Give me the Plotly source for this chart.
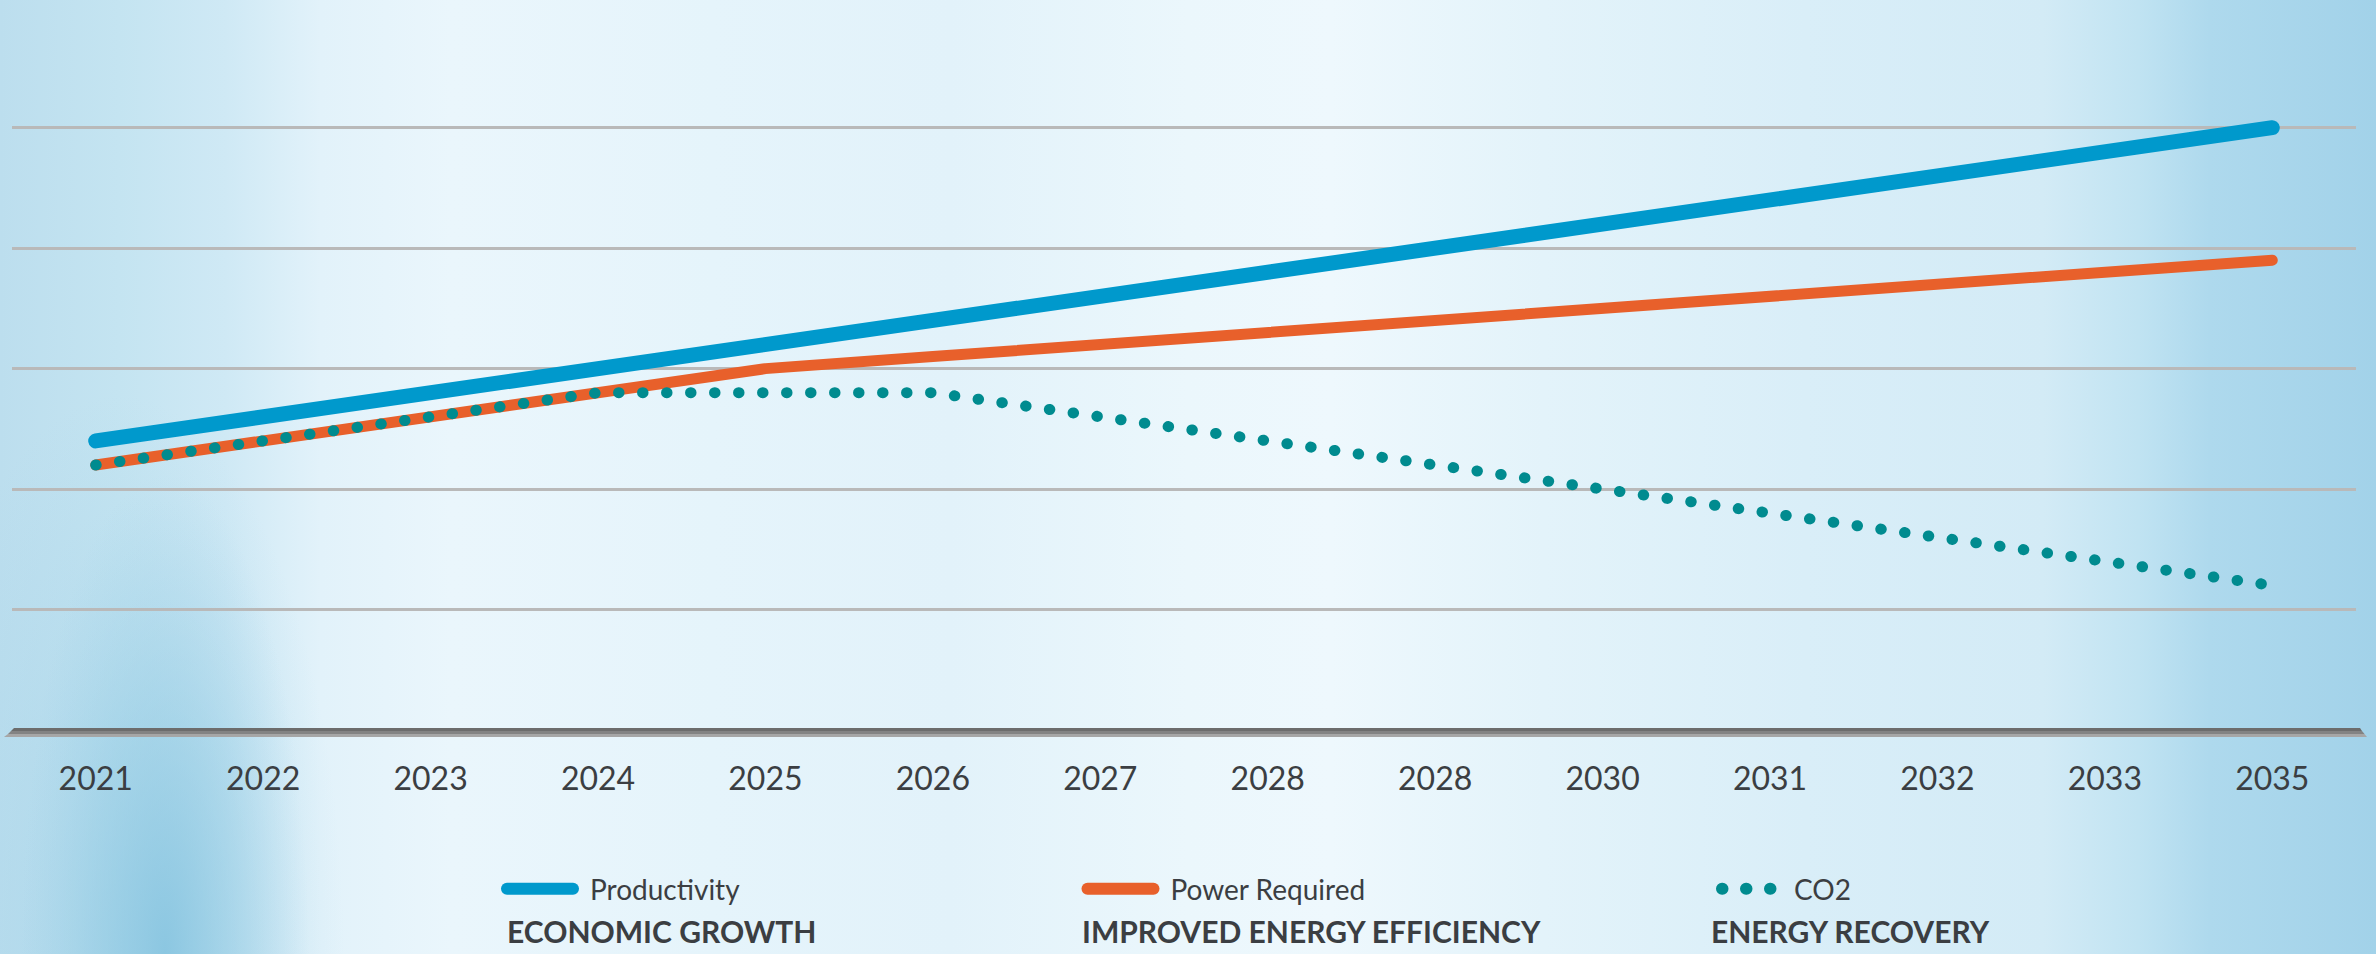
import base64
import plotly.graph_objects as go

# ---------------- data ----------------
years = ["2021", "2022", "2023", "2024", "2025", "2026", "2027",
         "2028", "2028", "2030", "2031", "2032", "2033", "2035"]
productivity = [2.4, 2.6, 2.8, 3.0, 3.2, 3.4, 3.6, 3.8, 4.0, 4.2, 4.4, 4.6, 4.8, 5.0]
power_required = [2.2, 2.4, 2.6, 2.8, 3.0, 3.1, 3.2, 3.3, 3.4, 3.5, 3.6, 3.7, 3.8, 3.9]
co2 = [2.2, 2.4, 2.6, 2.8, 2.8, 2.8, 2.6, 2.4, 2.2, 2.0, 1.8, 1.6, 1.4, 1.2]
series_names = ["Productivity", "Power Required", "CO2"]
group_labels = ["ECONOMIC GROWTH", "IMPROVED ENERGY EFFICIENCY", "ENERGY RECOVERY"]

# ---------------- style ----------------
W, H = 2376, 954
ML, MR, MT, MB = 12, 20, 7, 224
PW, PH = W - ML - MR, H - MT - MB
TEXT = "#3b3e42"
C_PROD = "#0099cc"
C_POW = "#e8602b"
C_CO2 = "#008b8f"
FONT = "Lato"

def px_x(p):
    return (p - ML) / PW

def px_y(p):
    return (H - MB - p) / PH

# background gradient (decorative)
stops = [
    (0.000, "#bcdeee"), (0.050, "#c4e4f1"), (0.095, "#cfe9f5"), (0.135, "#e2f2fa"),
    (0.190, "#eaf6fc"), (0.300, "#e5f4fb"), (0.400, "#e2f2fa"), (0.500, "#ebf7fc"),
    (0.560, "#eef8fd"), (0.650, "#e3f3fa"), (0.760, "#d9eef8"), (0.860, "#d3ebf6"),
    (0.900, "#c0e3f2"), (0.930, "#aed9ed"), (1.000, "#a2d2e9"),
]
stop_svg = "".join(f"<stop offset='{o}' stop-color='{c}'/>" for o, c in stops)
svg = (
    f"<svg xmlns='http://www.w3.org/2000/svg' width='{W}' height='{H}' viewBox='0 0 {W} {H}' "
    "preserveAspectRatio='none'><defs>"
    f"<linearGradient id='h' x1='0' y1='0' x2='1' y2='0'>{stop_svg}</linearGradient>"
    "<radialGradient id='b' gradientUnits='userSpaceOnUse' cx='165' cy='954' r='480' "
    "gradientTransform='translate(165 954) scale(0.3 1) translate(-165 -954)'>"
    "<stop offset='0' stop-color='#84c3df' stop-opacity='0.85'/>"
    "<stop offset='0.55' stop-color='#8fc9e2' stop-opacity='0.4'/>"
    "<stop offset='1' stop-color='#9ccfe6' stop-opacity='0'/></radialGradient>"
    "<radialGradient id='c' gradientUnits='userSpaceOnUse' cx='120' cy='954' r='560' "
    "gradientTransform='translate(120 954) scale(0.4 1) translate(-120 -954)'>"
    "<stop offset='0' stop-color='#a6d4e9' stop-opacity='0.7'/>"
    "<stop offset='1' stop-color='#a6d4e9' stop-opacity='0'/></radialGradient>"
    "</defs>"
    f"<rect width='{W}' height='{H}' fill='url(#h)'/>"
    f"<rect width='{W}' height='{H}' fill='url(#c)'/>"
    f"<rect width='{W}' height='{H}' fill='url(#b)'/></svg>"
)
bg_src = "data:image/svg+xml;base64," + base64.b64encode(svg.encode()).decode()

xs = list(range(len(years)))

fig = go.Figure()
fig.add_trace(go.Scatter(
    x=xs, y=productivity, name=series_names[0], mode="lines",
    line=dict(color=C_PROD, width=15), legend="legend", hoverinfo="skip"))
fig.add_trace(go.Scatter(
    x=xs, y=power_required, name=series_names[1], mode="lines",
    line=dict(color=C_POW, width=11), legend="legend2", hoverinfo="skip"))
fig.add_trace(go.Scatter(
    x=xs, y=co2, name=series_names[2], mode="lines",
    line=dict(color=C_CO2, width=11, dash="0.5px,23.5px"), legend="legend3", hoverinfo="skip"))

leg_y = px_y(889)
def legend_cfg(x_px):
    return dict(
        orientation="h", x=px_x(x_px), y=leg_y, xanchor="left", yanchor="middle",
        xref="paper", yref="paper", bgcolor="rgba(0,0,0,0)", borderwidth=0,
        font=dict(family=FONT, size=28, color=TEXT), itemwidth=84,
        itemclick=False, itemdoubleclick=False,
    )

# decorative axis "floor" bar
def band(y_top, y_bot, xl_top, xr_top, xl_bot, xr_bot, color):
    path = (f"M{px_x(xl_top)},{px_y(y_top)} L{px_x(xr_top)},{px_y(y_top)} "
            f"L{px_x(xr_bot)},{px_y(y_bot)} L{px_x(xl_bot)},{px_y(y_bot)} Z")
    return dict(type="path", xref="paper", yref="paper", path=path,
                fillcolor=color, line=dict(width=0), layer="above")

shapes = [
    band(728, 731, 14, 2360, 11, 2362, "#6c6c6c"),
    band(731, 734, 11, 2362, 8, 2364.5, "#838383"),
    band(734, 737, 8, 2364.5, 4, 2367, "#a6a6a6"),
]

annotations = []
for lbl, xp in zip(group_labels, [505, 1080, 1709]):
    annotations.append(dict(
        text=lbl, xref="paper", yref="paper", x=px_x(xp), y=px_y(931),
        xanchor="left", yanchor="middle", showarrow=False,
        font=dict(family=FONT, size=30, color=TEXT, weight=700)))

fig.update_layout(
    width=W, height=H,
    margin=dict(l=ML, r=MR, t=MT, b=MB, pad=0),
    paper_bgcolor="#dff0f8", plot_bgcolor="rgba(0,0,0,0)",
    showlegend=True,
    legend=legend_cfg(496),
    legend2=legend_cfg(1076.5),
    legend3=legend_cfg(1700),
    shapes=shapes,
    annotations=annotations,
    images=[dict(source=bg_src, xref="paper", yref="paper",
                 x=-ML / PW, y=1 + MT / PH, sizex=W / PW, sizey=H / PH,
                 xanchor="left", yanchor="top", sizing="stretch", layer="below")],
    xaxis=dict(range=[-0.5, len(years) - 0.5], tickmode="array", tickvals=xs, ticktext=years,
               showgrid=False, zeroline=False, showline=False, ticks="",
               ticklabelstandoff=27,
               tickfont=dict(family=FONT, size=32, color=TEXT), fixedrange=True),
    yaxis=dict(range=[0, 6.002], dtick=1, tick0=0, showgrid=True, gridcolor="#b9b9b9",
               gridwidth=2.5, zeroline=False, showline=False, showticklabels=False,
               ticks="", fixedrange=True),
)

post = """
(function(){
  document.documentElement.style.margin='0';
  document.body.style.margin='0';
  document.body.style.overflow='hidden';
  var gd = document.getElementById('{plot_id}');
  function fix(){
    try {
      gd.querySelectorAll('path.js-line').forEach(function(p){
        p.style.strokeLinecap='round';
        p.style.strokeLinejoin='round';
      });
      gd.querySelectorAll('g.legendlines path.js-line').forEach(function(p){
        var s = p.style.stroke || '';
        if (s.indexOf('139, 143') >= 0) { p.setAttribute('d', 'M22,0h52'); }
        else { p.setAttribute('d', 'M11,0h66'); }
        p.style.strokeWidth = '12px';
      });
    } catch(e) {}
  }
  fix();
  setTimeout(fix, 30);
  setTimeout(fix, 300);
  if (gd && gd.on) { gd.on('plotly_afterplot', fix); }
})();
"""

fig.write_html("out.html", post_script=post, config={"displayModeBar": False})
